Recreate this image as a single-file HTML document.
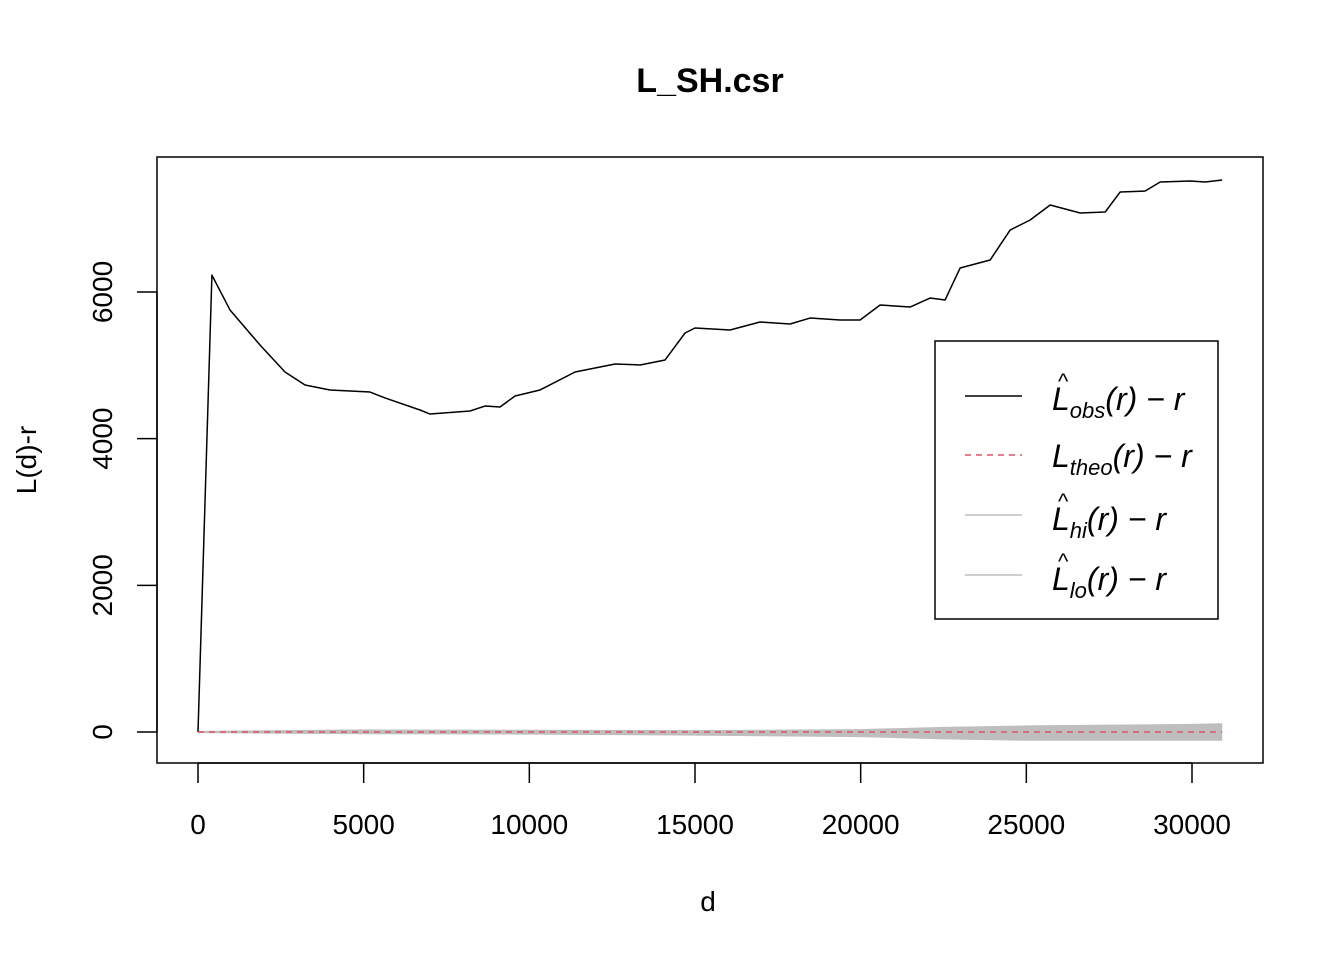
<!DOCTYPE html>
<html><head><meta charset="utf-8"><style>
body{margin:0;background:#fff}
svg{display:block;font-family:"Liberation Sans",Arial,sans-serif}
</style></head><body>
<svg id="c" width="1344" height="960">
<text x="710" y="92" text-anchor="middle" font-size="34" font-weight="bold">L_SH.csr</text>
<rect x="157" y="157" width="1106" height="606" fill="none" stroke="#000" stroke-width="1.5"/>
<g id="band"></g><g id="lines"></g><g id="axes"></g>
<text x="708" y="911" text-anchor="middle" font-size="28">d</text>
<text transform="translate(36,460) rotate(-90)" text-anchor="middle" font-size="28">L(d)-r</text>
<g>
<rect x="935" y="341" width="283" height="278" fill="#fff" stroke="#000" stroke-width="1.5"/>
<line x1="965" y1="396" x2="1022" y2="396" stroke="#000" stroke-width="1.5"/>
<line x1="965" y1="455" x2="1022" y2="455" stroke="#DF536B" stroke-width="1.5" stroke-dasharray="6,5"/>
<line x1="965" y1="515" x2="1022" y2="515" stroke="#bebebe" stroke-width="1.5"/>
<line x1="965" y1="575" x2="1022" y2="575" stroke="#bebebe" stroke-width="1.5"/>
<g font-size="32" font-style="italic">
<text x="1052" y="410">L<tspan font-size="22" dy="8">obs</tspan><tspan dy="-8">(r) − r</tspan></text>
<text x="1058" y="389" font-size="22" font-style="normal">^</text>
<text x="1052" y="467">L<tspan font-size="22" dy="8">theo</tspan><tspan dy="-8">(r) − r</tspan></text>
<text x="1052" y="530">L<tspan font-size="22" dy="8">hi</tspan><tspan dy="-8">(r) − r</tspan></text>
<text x="1058" y="509" font-size="22" font-style="normal">^</text>
<text x="1052" y="590">L<tspan font-size="22" dy="8">lo</tspan><tspan dy="-8">(r) − r</tspan></text>
<text x="1058" y="569" font-size="22" font-style="normal">^</text>
</g></g>
</svg>
<script>
const obsD=[0,420,966,1871,2626,3230,3984,5192,5645,6700,7003,8210,8663,9115,9568,10323,11380,12134,12587,13342,14097,14700,15000,16058,16963,17869,18473,19378,19982,20586,21492,22096,22548,23001,23907,24511,25115,25719,26625,27380,27833,28587,29040,29946,30398,30912];
const obsV=[0,6230,5755,5277,4909,4732,4664,4636,4555,4391,4336,4377,4445,4432,4582,4664,4909,4977,5018,5005,5073,5441,5509,5482,5591,5564,5645,5618,5618,5823,5795,5918,5891,6327,6436,6845,6982,7186,7077,7091,7364,7377,7500,7514,7500,7527];
const bandD=[0,5000,10000,15000,20000,22500,25000,27500,30000,30912];
const hiV=[15,35,30,25,40,70,90,100,110,120];
const loV=[-15,-30,-35,-50,-70,-100,-120,-120,-120,-120];
const xTicks=[0,5000,10000,15000,20000,25000,30000];
const yTicks=[0,2000,4000,6000];
const NS='http://www.w3.org/2000/svg';
const X=d=>198+d*(1192-198)/30000;
const Y=v=>732-v*(732-292)/6000;
function mk(t,a,p){const e=document.createElementNS(NS,t);for(const k in a)e.setAttribute(k,a[k]);p.appendChild(e);return e;}
const band=document.getElementById('band'),lines=document.getElementById('lines'),axes=document.getElementById('axes');
let pts=bandD.map((d,i)=>X(d)+','+Y(hiV[i])).concat(bandD.slice().reverse().map((d,i)=>X(d)+','+Y(loV[bandD.length-1-i])));
const b=mk('polygon',{points:pts.join(' '),fill:'#bebebe'},band);


const o=mk('polyline',{points:obsD.map((d,i)=>X(d)+','+Y(obsV[i])).join(' '),fill:'none',stroke:'#000','stroke-width':1.5,'stroke-linejoin':'round'},lines);


const t=mk('line',{x1:X(0),x2:X(30912),y1:Y(0),y2:Y(0),stroke:'#DF536B','stroke-width':1.5,'stroke-dasharray':'6,5'},lines);


mk('line',{x1:X(0),x2:X(30000),y1:763,y2:763,stroke:'#000','stroke-width':1.5},axes);
xTicks.forEach(v=>{mk('line',{x1:X(v),x2:X(v),y1:763,y2:783,stroke:'#000','stroke-width':1.5},axes);
const tx=mk('text',{x:X(v),y:834,'text-anchor':'middle','font-size':28},axes);tx.textContent=v;

});
mk('line',{x1:157,x2:157,y1:Y(0),y2:Y(6000),stroke:'#000','stroke-width':1.5},axes);
yTicks.forEach(v=>{mk('line',{x1:137,x2:157,y1:Y(v),y2:Y(v),stroke:'#000','stroke-width':1.5},axes);
const tx=mk('text',{x:0,y:0,'text-anchor':'middle','font-size':28,transform:`translate(112,${Y(v)}) rotate(-90)`},axes);tx.textContent=v;

});
</script>
</body></html>
